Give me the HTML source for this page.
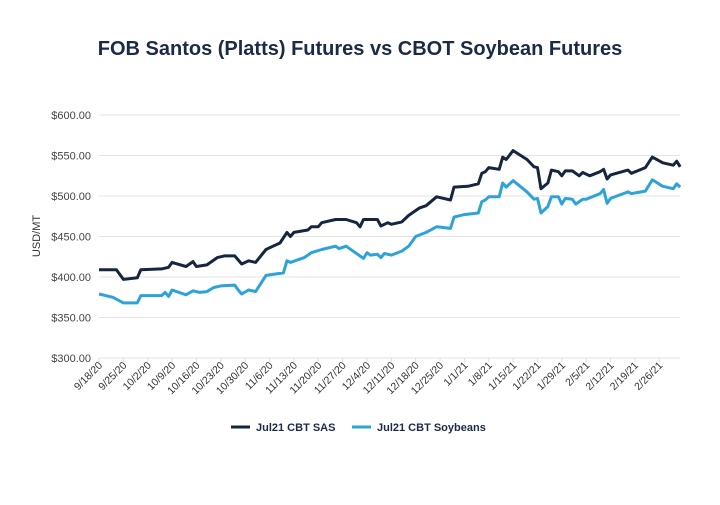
<!DOCTYPE html>
<html><head><meta charset="utf-8"><style>
body{margin:0;background:#fff;font-family:"Liberation Sans",sans-serif}
</style></head><body>
<svg width="720" height="500" xmlns="http://www.w3.org/2000/svg">
<text x="360" y="55" text-anchor="middle" font-size="20" font-weight="bold" fill="#1b2a47">FOB Santos (Platts) Futures vs CBOT Soybean Futures</text>
<g id="grid"></g><g id="yt"></g><g id="xt"></g><g id="lines"></g>
<text transform="translate(40,236) rotate(-90)" text-anchor="middle" font-size="11" fill="#333">USD/MT</text>
<g>
<line x1="231" y1="427" x2="250" y2="427" stroke="#16263f" stroke-width="3"/>
<text x="256" y="431" font-size="11" font-weight="bold" fill="#1b2a47">Jul21 CBT SAS</text>
<line x1="352" y1="427" x2="371" y2="427" stroke="#2ea3d8" stroke-width="3"/>
<text x="377" y="431" font-size="11" font-weight="bold" fill="#1b2a47">Jul21 CBT Soybeans</text>
</g>
</svg>
<script>
const yTicks=[300,350,400,450,500,550,600];
const xLabels=["9/18/20","9/25/20","10/2/20","10/9/20","10/16/20","10/23/20","10/30/20","11/6/20","11/13/20","11/20/20","11/27/20","12/4/20","12/11/20","12/18/20","12/25/20","1/1/21","1/8/21","1/15/21","1/22/21","1/29/21","2/5/21","2/12/21","2/19/21","2/26/21"];
const sasDays=[0,5,7,11,12,18,20,21,25,27,28,31,34,36,39,41,43,45,48,50,52,54,55,56,60,61,63,64,68,71,74,75,76,80,81,83,84,87,89,92,94,97,101,102,106,109,110,111,112,115,116,117,119,123,125,126,127,129,130,132,133,134,136,138,139,141,144,145,146,147,152,153,157,159,162,165,166,167];
const sasVals=[409,409,397,399,409,410,412,418,413,419,413,415,424,426,426,416,420,418,434,438,442,455,450,455,458,462,462,467,471,471,467,462,471,471,463,467,465,468,476,485,488,499,495,511,512,515,528,530,535,533,548,545,556,545,536,535,509,516,532,530,525,531,531,525,529,525,530,533,521,526,532,528,535,548,541,538,543,536];
const soyDays=[0,4,7,11,12,18,19,20,21,25,27,29,31,33,35,39,40,41,43,45,48,53,54,55,59,61,64,68,69,71,76,77,78,80,81,82,84,87,89,91,94,97,101,102,105,109,110,111,112,115,116,117,119,123,125,126,127,129,130,132,133,134,136,137,139,140,144,145,146,147,152,153,157,159,162,165,166,167];
const soyVals=[379,375,368,368,377,377,381,376,384,378,383,381,382,387,389,390,384,379,384,382,402,405,420,418,424,430,434,438,435,438,423,430,427,428,424,429,427,432,438,450,455,462,460,474,477,479,493,495,499,499,516,511,519,505,496,497,479,487,499,499,490,497,496,490,496,496,503,508,491,497,505,503,506,520,512,509,515,511];
const NS="http://www.w3.org/2000/svg";
const X0=99,DX=3.48,XR=680;
const xs=d=>X0+d*DX;
const ys=v=>358-(v-300)*(243/300);
function mk(t,a,p){const e=document.createElementNS(NS,t);for(const k in a)e.setAttribute(k,a[k]);p.appendChild(e);return e;}
const grid=document.getElementById('grid'),yt=document.getElementById('yt'),xt=document.getElementById('xt'),lines=document.getElementById('lines');
yTicks.forEach(v=>{
 const l=mk('line',{x1:X0,x2:XR,y1:ys(v),y2:ys(v),stroke:'#e3e3e3','stroke-width':1},grid);
 
 
 const t=mk('text',{x:91,y:ys(v)+4,'text-anchor':'end','font-size':11,fill:'#444'},yt);
 t.textContent='$'+v.toFixed(2);
 
 
});
xLabels.forEach((s,i)=>{
 const x=xs(i*7);
 const tk=mk('line',{x1:x,x2:x,y1:358,y2:362,stroke:'#ddd'},xt);
 
 
 const t=mk('text',{transform:`translate(${x+4},${366}) rotate(-45)`,'text-anchor':'end','font-size':10.5,fill:'#333'},xt);
 t.textContent=s;
 
 
});
function draw(days,vals,color,name){
 const pts=days.map((d,i)=>xs(d).toFixed(1)+','+ys(vals[i]).toFixed(1)).join(' ');
 const p=mk('polyline',{points:pts,fill:'none',stroke:color,'stroke-width':3,'stroke-linejoin':'round'},lines);
 
 
}
draw(soyDays,soyVals,'#2ea3d8','series-soybeans-line');
draw(sasDays,sasVals,'#16263f','series-sas-line');
</script>
</body></html>
